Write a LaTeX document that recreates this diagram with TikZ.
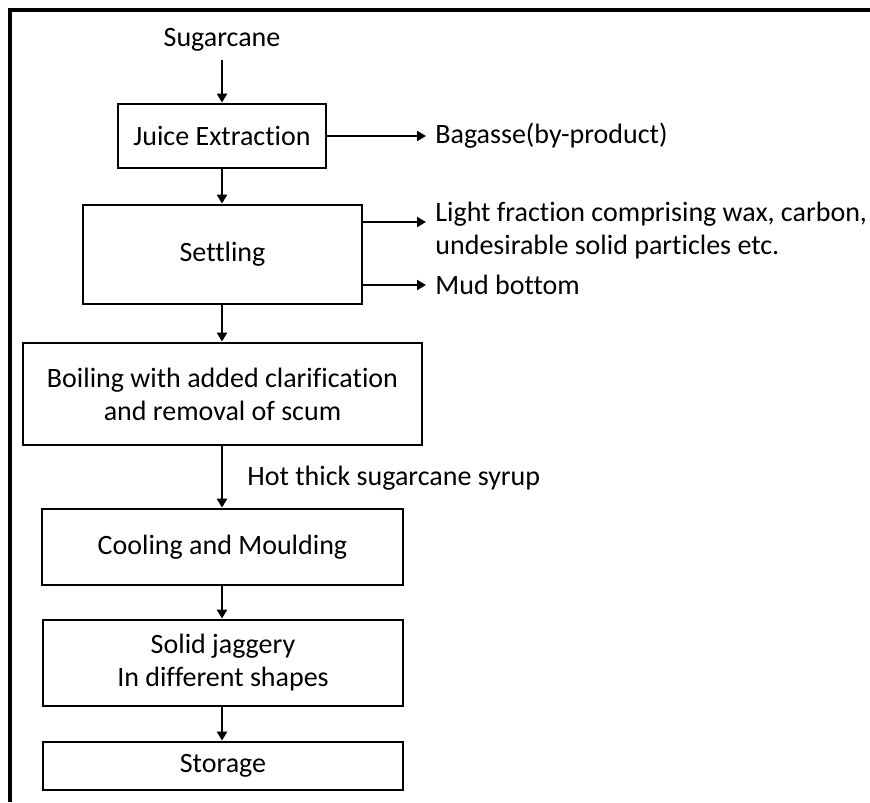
\documentclass[tikz,border=0pt]{standalone}
\usepackage{fontspec}
\setmainfont[Ligatures=NoCommon]{Carlito}
\usetikzlibrary{arrows.meta}
\tikzset{
  every node/.style={font=\fontsize{14pt}{16.5pt}\selectfont},
  stage/.style={draw, line width=1.4pt, align=center, inner sep=0pt},
  outtext/.style={anchor=west, align=left, inner sep=4.5pt},
  flow/.style={line width=1.2pt, -{Triangle[length=4.5pt,width=5pt]}}
}

\begin{document}
\begin{tikzpicture}[x=0.5pt,y=-0.5pt]
  \useasboundingbox (0,0) rectangle (870,802);
  % frame
  \draw[line width=2.2pt] (10,802) -- (10,10) -- (870,10);

  % main line
  \node[inner sep=4pt] (cane) at (222,40) {Sugarcane};
  \node[stage, minimum width=104pt, minimum height=32pt] (juice) at (222,136) {Juice Extraction};
  \node[stage, minimum width=139.5pt, minimum height=49.5pt] (settle) at (222.5,254.5) {Settling};
  \node[stage, minimum width=199.5pt, minimum height=51pt] (boil) at (222.5,394) {Boiling with added clarification\\and removal of scum};
  \node[stage, minimum width=180.5pt, minimum height=38pt] (cool) at (222.5,547) {Cooling and Moulding};
  \node[stage, minimum width=180pt, minimum height=43pt] (solid) at (223,663) {Solid jaggery\\In different shapes};
  \node[stage, minimum width=180pt, minimum height=24pt] (store) at (223,766) {Storage};

  % side products
  \node[outtext] (bag) at (426,136) {Bagasse(by-product)};
  \node[outtext] (light) at (426,231) {Light fraction comprising wax, carbon,\\undesirable solid particles etc.};
  \coordinate (lfin) at (426,222);
  \node[outtext] (mud) at (426,285) {Mud bottom};
  \node[outtext, inner sep=0pt] (syrup) at (247,478) {Hot thick sugarcane syrup};

  \draw[flow] (cane) -- (juice);
  \draw[flow] (juice.south) -- (settle.north -| juice.south);
  \draw[flow] (settle.south -| juice.south) -- (boil.north -| juice.south);
  \draw[flow] (boil.south -| juice.south) -- (cool.north -| juice.south);
  \draw[flow] (cool.south -| juice.south) -- (solid.north -| juice.south);
  \draw[flow] (solid.south -| juice.south) -- (store.north -| juice.south);

  \draw[flow] (juice.east) -- (bag.west);
  \draw[flow] (settle.east |- lfin) -- (lfin);
  \draw[flow] (settle.east |- mud.west) -- (mud.west);
\end{tikzpicture}
\end{document}
